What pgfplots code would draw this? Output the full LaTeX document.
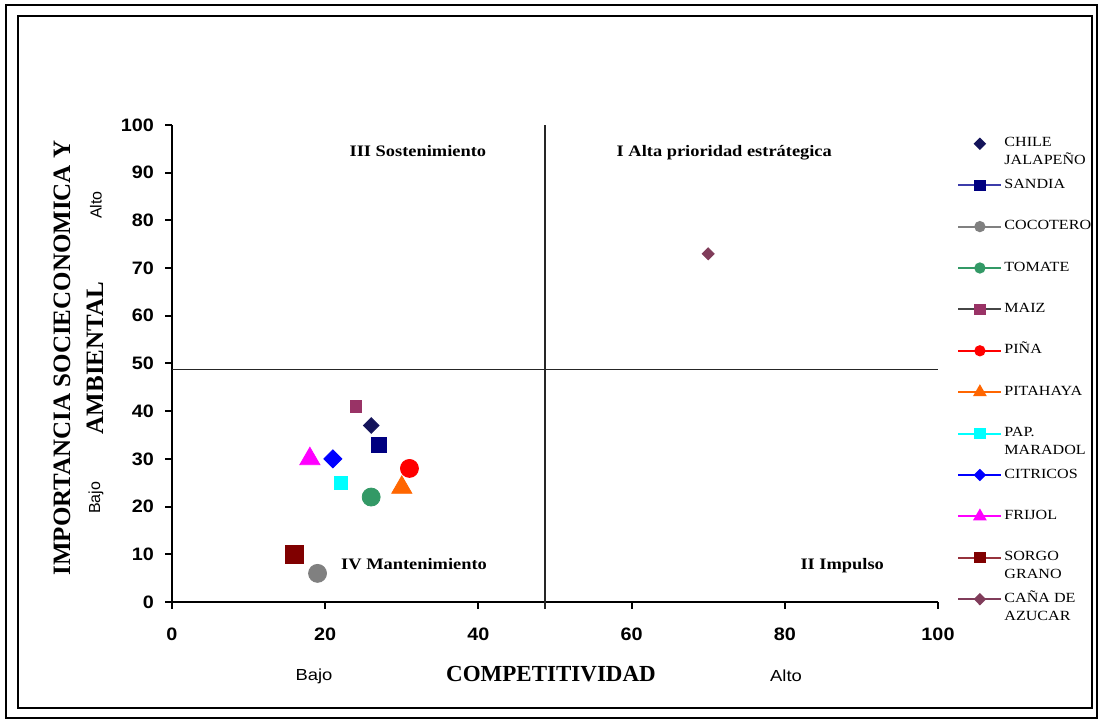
\documentclass[border=0pt]{standalone}
\usepackage{fontspec}
\setmainfont{Liberation Serif}
\setsansfont{Liberation Sans}
\usepackage{graphicx}
\usepackage{pgfplots}
\pgfplotsset{compat=1.18}

\definecolor{cChile}{RGB}{20,20,90}
\definecolor{cSandia}{RGB}{0,0,128}
\definecolor{cSandiaL}{RGB}{60,60,170}
\definecolor{cCoco}{RGB}{128,128,128}
\definecolor{cTomate}{RGB}{51,153,102}
\definecolor{cMaiz}{RGB}{153,51,102}
\definecolor{cMaizL}{RGB}{70,70,70}
\definecolor{cPina}{RGB}{255,0,0}
\definecolor{cPita}{RGB}{255,102,0}
\definecolor{cPap}{RGB}{0,255,255}
\definecolor{cCitr}{RGB}{0,0,255}
\definecolor{cFrij}{RGB}{255,0,255}
\definecolor{cSorgo}{RGB}{128,0,0}
\definecolor{cSorgoL}{RGB}{150,50,60}
\definecolor{cCana}{RGB}{128,60,90}

% legend text: one or two lines, smashed so every row has the same height
\newcommand\lgone[1]{\smash{\raisebox{-2.3pt}{\scalebox{1.15}[1]{#1}}}}
\newcommand\lgtwo[2]{\smash{\raisebox{-2.3pt}{\scalebox{1.15}[1]{\begin{tabular}[t]{@{}l@{}}#1\\#2\end{tabular}}}}}

\begin{document}
\begin{tikzpicture}
\useasboundingbox (0,0) rectangle (549.5pt,360.5pt);
\fill[white] (0,0) rectangle (549.5pt,360.5pt);
\begin{axis}[
  at={(86pt,59.5pt)}, anchor=south west,
  width=383pt, height=238.5pt, scale only axis,
  xmin=0, xmax=100, ymin=0, ymax=100,
  axis lines*=left,
  axis line style={line width=1pt, -},
  xtick={0,20,...,100}, ytick={0,10,...,100},
  tick align=outside, major tick length=3.5pt,
  tick style={line width=1pt, black},
  /pgf/number format/assume math mode=true,
  ticklabel style={font=\fontsize{9}{10}\selectfont\sffamily\bfseries},
  xticklabel={\scalebox{1.1}[1]{\pgfmathprintnumber{\tick}}},
  yticklabel={\scalebox{1.1}[1]{\pgfmathprintnumber{\tick}}},
  xticklabel style={yshift=-6pt},
  yticklabel style={xshift=-2pt},
  clip=false,
  legend cell align=left,
  legend style={at={(1,1)}, anchor=north west, xshift=9.5pt, yshift=-5pt,
    draw=none, fill=none, inner sep=0pt,
    font=\fontsize{7}{9}\selectfont,
    nodes={inner sep=1pt}, row sep=12.3pt},
  legend image code/.code={%
    \path (0pt,-4pt) (21.5pt,4pt);
    \draw[line width=1pt, mark repeat=2, mark phase=2]
      plot coordinates {(0pt,0pt) (10.75pt,0pt) (21.5pt,0pt)};},
  legend image post style={mark size=2.3pt},
]
% quadrant division lines
\draw[black!85, line width=0.6pt] (axis cs:48.7,-1.5) -- (axis cs:48.7,100);
\draw[black!85, line width=0.6pt] (axis cs:0,48.8) -- (axis cs:100,48.8);

\addplot[only marks, color=cChile, mark=diamond*, mark size=3.9pt, mark options={xscale=1.33},
  legend image post style={mark size=2.4pt}] coordinates {(26,37)};
\addlegendentry{\lgtwo{CHILE}{JALAPEÑO}}
\addplot[color=cSandiaL, mark=square*, mark size=3.75pt, mark options={draw=cSandia, fill=cSandia}] coordinates {(27,33)};
\addlegendentry{\lgone{SANDIA}}
\addplot[color=cCoco, mark=*, mark size=4.5pt] coordinates {(19,6)};
\addlegendentry{\lgone{COCOTERO}}
\addplot[color=cTomate, mark=*, mark size=4.5pt] coordinates {(26,22)};
\addlegendentry{\lgone{TOMATE}}
\addplot[color=cMaizL, mark=square*, mark size=2.9pt, mark options={draw=cMaiz, fill=cMaiz}] coordinates {(24,41)};
\addlegendentry{\lgone{MAIZ}}
\addplot[color=cPina, mark=*, mark size=4.5pt] coordinates {(31,28)};
\addlegendentry{\lgone{PIÑA}}
\addplot[color=cPita, mark=triangle*, mark size=5.8pt,
  legend image post style={mark size=3pt}] coordinates {(30,24)};
\addlegendentry{\lgone{PITAHAYA}}
\addplot[color=cPap, mark=square*, mark size=3.3pt] coordinates {(22,25)};
\addlegendentry{\lgtwo{PAP.}{MARADOL}}
\addplot[color=cCitr, mark=diamond*, mark size=4.5pt, mark options={xscale=1.33},
  legend image post style={mark size=2.4pt}] coordinates {(21,30)};
\addlegendentry{\lgone{CITRICOS}}
\addplot[color=cFrij, mark=triangle*, mark size=5.8pt,
  legend image post style={mark size=3pt}] coordinates {(18,30)};
\addlegendentry{\lgone{FRIJOL}}
\addplot[color=cSorgoL, mark=square*, mark size=4.5pt, mark options={draw=cSorgo, fill=cSorgo}] coordinates {(16,10)};
\addlegendentry{\lgtwo{SORGO}{GRANO}}
\addplot[color=cCana, mark=diamond*, mark size=3pt, mark options={xscale=1.33},
  legend image post style={mark size=2.4pt}] coordinates {(70,73)};
\addlegendentry{\lgtwo{CAÑA DE}{AZUCAR}}

% quadrant names
\node[anchor=base, font=\fontsize{8}{9}\selectfont\bfseries] at (axis cs:32.1,93.3) {\scalebox{1.15}[1]{III Sostenimiento}};
\node[anchor=base, font=\fontsize{8}{9}\selectfont\bfseries] at (axis cs:72.1,93.3) {\scalebox{1.15}[1]{I Alta prioridad estrátegica}};
\node[anchor=base, font=\fontsize{8}{9}\selectfont\bfseries] at (axis cs:31.6,6.9) {\scalebox{1.15}[1]{IV Mantenimiento}};
\node[anchor=base, font=\fontsize{8}{9}\selectfont\bfseries] at (axis cs:87.5,6.9) {\scalebox{1.15}[1]{II Impulso}};
\end{axis}

\begin{scope}[shift={(0pt,360.5pt)}, x=0.5pt, y=-0.5pt]
\draw[line width=0.9pt] (6,5) rectangle (1097,718);
\draw[line width=0.9pt] (18,16) rectangle (1092,708);
\node[rotate=90, align=center, font=\fontsize{12.5}{16.5}\selectfont\bfseries] at (78.5,358) {IMPORTANCIA SOCIECONOMICA Y\\AMBIENTAL};
\node[font=\fontsize{11.5}{13}\selectfont\bfseries] at (551,674) {COMPETITIVIDAD};
\node[font=\fontsize{8}{9}\selectfont\sffamily] at (314,676) {\scalebox{1.15}[1]{Bajo}};
\node[font=\fontsize{8}{9}\selectfont\sffamily] at (786,676) {\scalebox{1.15}[1]{Alto}};
\node[rotate=90, font=\fontsize{8}{9}\selectfont\sffamily] at (96,205) {Alto};
\node[rotate=90, font=\fontsize{8}{9}\selectfont\sffamily] at (96,498) {Bajo};
\end{scope}
\end{tikzpicture}
\end{document}
